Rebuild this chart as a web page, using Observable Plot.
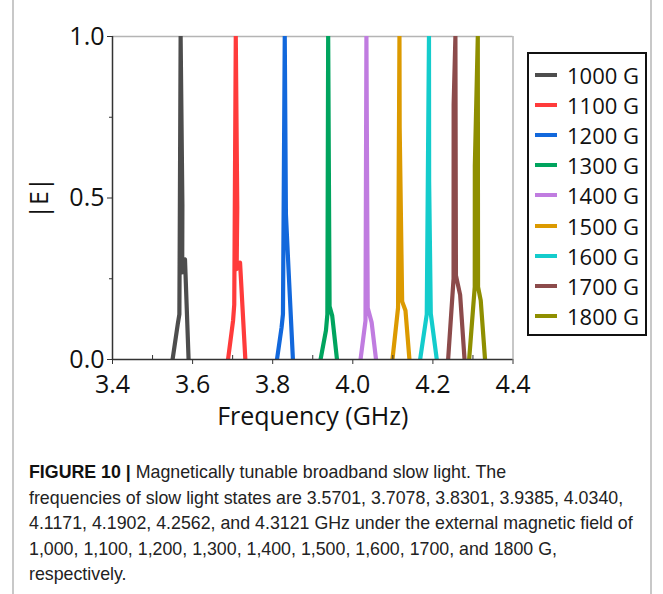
<!DOCTYPE html>
<html>
<head>
<meta charset="utf-8">
<script src="https://cdn.jsdelivr.net/npm/d3@7"></script>
<script src="https://cdn.jsdelivr.net/npm/@observablehq/plot@0.6"></script>
<style>
html,body{margin:0;padding:0;background:#fff;}
#wrap{position:relative;width:663px;height:594px;overflow:hidden;font-family:"Open Sans",sans-serif;}
#frame{position:absolute;left:12px;top:-10px;width:636px;height:640px;border-left:2px solid #c8c8c8;border-right:2px solid #c8c8c8;}
#chart{position:absolute;left:0;top:0;}
#legend{position:absolute;left:527px;top:52px;width:116px;height:280px;border:2px solid #111;background:#fff;}
.item{position:absolute;left:0;width:116px;height:30px;}
.sw{position:absolute;left:6px;top:13px;width:22px;height:4px;}
.lab{position:absolute;left:38px;top:0;font-family:"Open Sans",sans-serif;font-size:22px;line-height:30px;color:#111;white-space:nowrap;}
#caption{position:absolute;left:29px;top:460px;width:625px;font-family:"Liberation Sans",Arial,sans-serif;font-size:17.8px;line-height:25.6px;color:#222;white-space:nowrap;}
#caption b{color:#111;}
</style>
</head>
<body>
<div id="wrap">
  <div id="frame"></div>
  <div id="chart"></div>
  <div id="legend"></div>
  <div id="caption"><b>FIGURE 10 |</b> Magnetically tunable broadband slow light. The<br>frequencies of slow light states are 3.5701, 3.7078, 3.8301, 3.9385, 4.0340,<br>4.1171, 4.1902, 4.2562, and 4.3121 GHz under the external magnetic field of<br>1,000, 1,100, 1,200, 1,300, 1,400, 1,500, 1,600, 1700, and 1800 G,<br>respectively.</div>
</div>
<script>
// Series names and colours
const seriesNames = ["1000 G","1100 G","1200 G","1300 G","1400 G","1500 G","1600 G","1700 G","1800 G"];
const seriesColors = ["#4d4d4d","#ff3b3b","#1268dc","#00a45e","#c07ce0","#dc9a00","#14cccc","#8c4b4b","#8f8f00"];

// Frequencies (GHz) and |E| values
const f1000 = [3.550, 3.563, 3.567, 3.5701, 3.5745, 3.574, 3.581, 3.590];
const e1000 = [0, 0.11, 0.14, 1.0, 0.48, 0.27, 0.31, 0];
const f1100 = [3.6885, 3.701, 3.704, 3.7078, 3.7115, 3.710, 3.7185, 3.7317];
const e1100 = [0, 0.12, 0.17, 1.0, 0.47, 0.28, 0.30, 0];
const f1200 = [3.8107, 3.8222, 3.8256, 3.8301, 3.8330, 3.8395, 3.8505];
const e1200 = [0, 0.10, 0.14, 1.0, 0.45, 0.28, 0];
const f1300 = [3.9195, 3.9330, 3.9365, 3.9385, 3.9420, 3.9486, 3.9605];
const e1300 = [0, 0.09, 0.14, 1.0, 0.165, 0.135, 0];
const f1400 = [4.0193, 4.0317, 4.0340, 4.0372, 4.0470, 4.0580];
const e1400 = [0, 0.12, 1.0, 0.16, 0.115, 0];
const f1500 = [4.0990, 4.1130, 4.1165, 4.1170, 4.1232, 4.1315, 4.1414];
const e1500 = [0, 0.16, 1.0, 0.72, 0.18, 0.152, 0];
const f1600 = [4.1681, 4.1847, 4.1902, 4.1906, 4.1947, 4.2097];
const e1600 = [0, 0.14, 1.0, 0.55, 0.142, 0];
const f1700 = [4.2380, 4.2516, 4.2518, 4.2562, 4.2575, 4.2680, 4.2790];
const e1700 = [0, 0.25, 0.79, 1.0, 0.26, 0.20, 0];
const f1800 = [4.2905, 4.3045, 4.3047, 4.3121, 4.3127, 4.3194, 4.3302];
const e1800 = [0, 0.225, 0.60, 1.0, 0.225, 0.183, 0];

// Axis ticks
const xMajor = [3.4, 3.6, 3.8, 4.0, 4.2, 4.4];
const xMinor = [3.5, 3.7, 3.9, 4.1, 4.3];
const yMajor = [0, 0.5, 1.0];
const yMinor = [0.25, 0.75];

const freqs = [f1000, f1100, f1200, f1300, f1400, f1500, f1600, f1700, f1800];
const vals = [e1000, e1100, e1200, e1300, e1400, e1500, e1600, e1700, e1800];
const rows = [];
seriesNames.forEach((s, i) => freqs[i].forEach((f, j) => rows.push({series: s, f, e: vals[i][j]})));

const plot = Plot.plot({
  width: 663,
  height: 440,
  marginLeft: 112,
  marginRight: 150.5,
  marginTop: 36,
  marginBottom: 81,
  style: {fontFamily: "'Open Sans', sans-serif", fontSize: "24px", color: "#111", background: "transparent", overflow: "visible"},
  x: {domain: [3.4, 4.4]},
  y: {domain: [0, 1]},
  color: {domain: seriesNames, range: seriesColors},
  marks: [
    Plot.ruleY([1], {stroke: "#b4b4b4", strokeWidth: 1.5}),
    Plot.ruleX([4.4], {stroke: "#b4b4b4", strokeWidth: 1.5}),
    Plot.line(rows, {x: "f", y: "e", z: "series", stroke: "series", strokeWidth: 4.2, clip: true, strokeLinejoin: "round"}),
    Plot.axisX({ticks: xMajor, tickSize: 5, tickPadding: 11, fontSize: 25, tickFormat: d3.format(".1f"), label: "Frequency (GHz)", labelAnchor: "center", labelArrow: "none", labelOffset: 65, stroke: "#333", strokeOpacity: 1}),
    Plot.axisX({ticks: xMinor, tickSize: -4, tickFormat: () => "", label: null, stroke: "#333", strokeOpacity: 1}),
    Plot.axisY({ticks: yMajor, tickSize: 5, tickPadding: 3, fontSize: 25, tickFormat: d3.format(".1f"), label: "|E|", labelAnchor: "center", labelArrow: "none", labelOffset: 82, stroke: "#333", strokeOpacity: 1}),
    Plot.axisY({ticks: yMinor, tickSize: 3, tickFormat: () => "", label: null, stroke: "#333", strokeOpacity: 1}),
    Plot.ruleY([0], {stroke: "#333", strokeWidth: 1.5}),
    Plot.ruleX([3.4], {stroke: "#333", strokeWidth: 1.5})
  ]
});
document.getElementById("chart").appendChild(plot);

// Legend
const legend = document.getElementById("legend");
seriesNames.forEach((s, i) => {
  const it = document.createElement("div");
  it.className = "item";
  it.style.top = (75 + 30.1 * i - 54 - 15) + "px";
  const sw = document.createElement("div");
  sw.className = "sw";
  sw.style.background = seriesColors[i];
  const lb = document.createElement("div");
  lb.className = "lab";
  lb.textContent = s;
  it.appendChild(sw);
  it.appendChild(lb);
  legend.appendChild(it);
});
</script>
</body>
</html>
